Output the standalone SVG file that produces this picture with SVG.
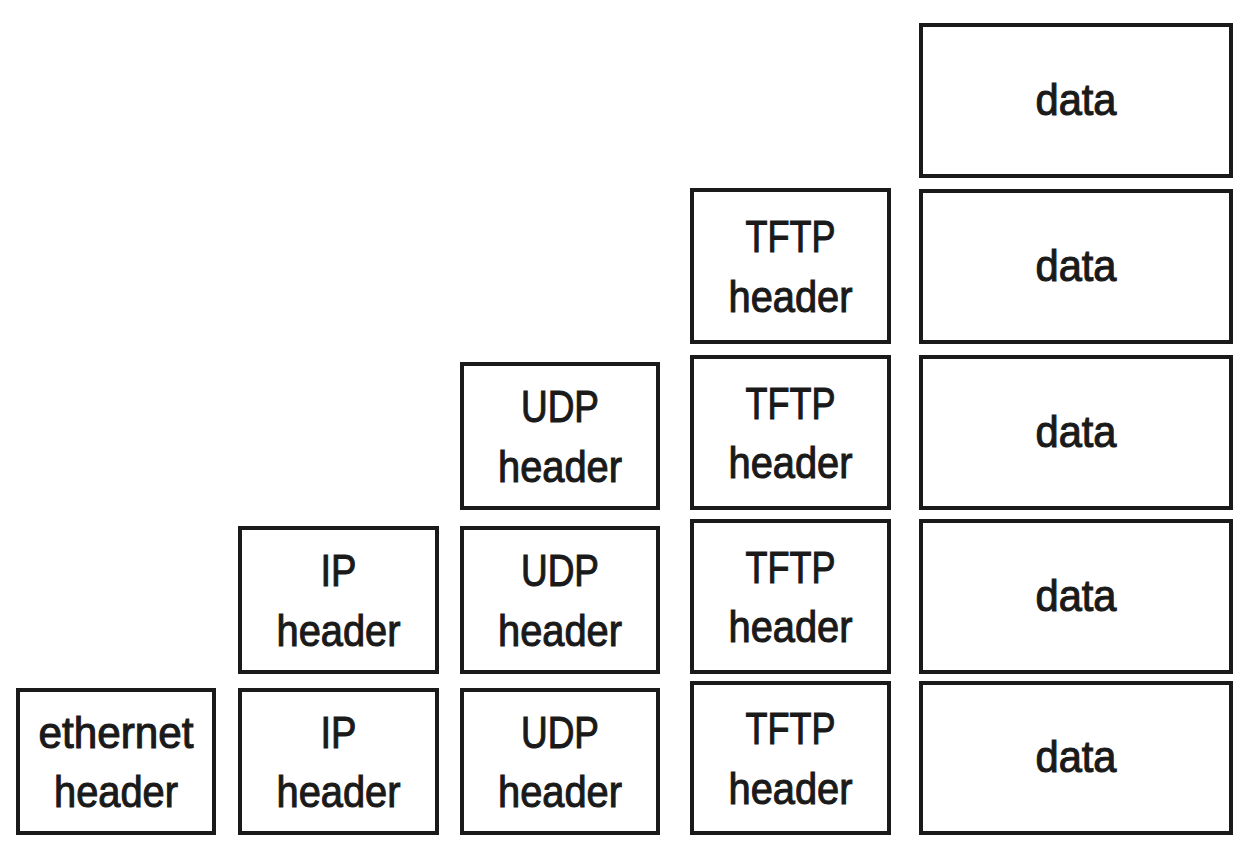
<svg xmlns="http://www.w3.org/2000/svg" width="1257" height="849" viewBox="0 0 1257 849">
<style>
.box{fill:#fff;stroke:#1a1a1a;stroke-width:4}
.t{font-family:"Liberation Sans",Arial,sans-serif;font-size:45px;fill:#1a1a1a;stroke:#1a1a1a;stroke-width:1.1;text-anchor:middle}
</style>
<rect width="1257" height="849" fill="#fff"/>
<g id="connectors"></g>
<g id="ethernet-5">
<rect class="box" x="18" y="690" width="196" height="143"/>
<text class="t" x="116" y="747.5" textLength="155" lengthAdjust="spacingAndGlyphs">ethernet</text>
<text class="t" x="116" y="807" textLength="124" lengthAdjust="spacingAndGlyphs">header</text>
</g>
<g id="ip-4">
<rect class="box" x="240" y="528" width="197" height="144"/>
<text class="t" x="338.5" y="586" textLength="36" lengthAdjust="spacingAndGlyphs">IP</text>
<text class="t" x="338.5" y="645.5" textLength="124" lengthAdjust="spacingAndGlyphs">header</text>
</g>
<g id="ip-5">
<rect class="box" x="240" y="690" width="197" height="143"/>
<text class="t" x="338.5" y="747.5" textLength="36" lengthAdjust="spacingAndGlyphs">IP</text>
<text class="t" x="338.5" y="807" textLength="124" lengthAdjust="spacingAndGlyphs">header</text>
</g>
<g id="udp-3">
<rect class="box" x="462" y="364" width="196" height="144"/>
<text class="t" x="560" y="422" textLength="78" lengthAdjust="spacingAndGlyphs">UDP</text>
<text class="t" x="560" y="481.5" textLength="124" lengthAdjust="spacingAndGlyphs">header</text>
</g>
<g id="udp-4">
<rect class="box" x="462" y="528" width="196" height="144"/>
<text class="t" x="560" y="586" textLength="78" lengthAdjust="spacingAndGlyphs">UDP</text>
<text class="t" x="560" y="645.5" textLength="124" lengthAdjust="spacingAndGlyphs">header</text>
</g>
<g id="udp-5">
<rect class="box" x="462" y="690" width="196" height="143"/>
<text class="t" x="560" y="747.5" textLength="78" lengthAdjust="spacingAndGlyphs">UDP</text>
<text class="t" x="560" y="807" textLength="124" lengthAdjust="spacingAndGlyphs">header</text>
</g>
<g id="tftp-2">
<rect class="box" x="692" y="190" width="197" height="152"/>
<text class="t" x="790.5" y="252" textLength="90" lengthAdjust="spacingAndGlyphs">TFTP</text>
<text class="t" x="790.5" y="311.5" textLength="124" lengthAdjust="spacingAndGlyphs">header</text>
</g>
<g id="tftp-3">
<rect class="box" x="692" y="357" width="197" height="151"/>
<text class="t" x="790.5" y="418.5" textLength="90" lengthAdjust="spacingAndGlyphs">TFTP</text>
<text class="t" x="790.5" y="478" textLength="124" lengthAdjust="spacingAndGlyphs">header</text>
</g>
<g id="tftp-4">
<rect class="box" x="692" y="521" width="197" height="151"/>
<text class="t" x="790.5" y="582.5" textLength="90" lengthAdjust="spacingAndGlyphs">TFTP</text>
<text class="t" x="790.5" y="642" textLength="124" lengthAdjust="spacingAndGlyphs">header</text>
</g>
<g id="tftp-5">
<rect class="box" x="692" y="683" width="197" height="150"/>
<text class="t" x="790.5" y="744" textLength="90" lengthAdjust="spacingAndGlyphs">TFTP</text>
<text class="t" x="790.5" y="803.5" textLength="124" lengthAdjust="spacingAndGlyphs">header</text>
</g>
<g id="data-1">
<rect class="box" x="921" y="25" width="310" height="151"/>
<text class="t" x="1076" y="114.5" textLength="81" lengthAdjust="spacingAndGlyphs">data</text>
</g>
<g id="data-2">
<rect class="box" x="921" y="191" width="310" height="151"/>
<text class="t" x="1076" y="280.5" textLength="81" lengthAdjust="spacingAndGlyphs">data</text>
</g>
<g id="data-3">
<rect class="box" x="921" y="357" width="310" height="151"/>
<text class="t" x="1076" y="446.5" textLength="81" lengthAdjust="spacingAndGlyphs">data</text>
</g>
<g id="data-4">
<rect class="box" x="921" y="521" width="310" height="151"/>
<text class="t" x="1076" y="610.5" textLength="81" lengthAdjust="spacingAndGlyphs">data</text>
</g>
<g id="data-5">
<rect class="box" x="921" y="683" width="310" height="150"/>
<text class="t" x="1076" y="772" textLength="81" lengthAdjust="spacingAndGlyphs">data</text>
</g>
</svg>
